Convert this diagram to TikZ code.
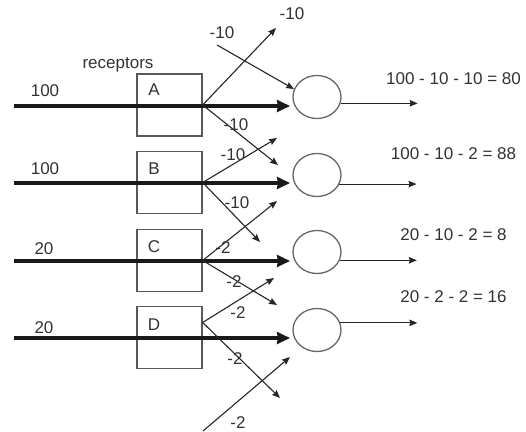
\documentclass[tikz,border=0pt]{standalone}
\usepackage{fontspec}
\setmainfont{Liberation Sans}
\usetikzlibrary{arrows.meta,shapes.geometric,calc}
\begin{document}
\begin{tikzpicture}[x=1pt,y=-1pt,
  every node/.style={font=\fontsize{17}{20}\selectfont, text=black!80},
  lbl/.style={inner sep=0pt, text height=12.2pt, text depth=0pt},
  recbox/.style={draw=black!65, line width=1.3pt, minimum width=65pt, minimum height=62pt, inner sep=0pt},
  cell/.style={ellipse, draw=black!60, line width=1.3pt, minimum width=48pt, minimum height=43pt, inner sep=0pt},
  bigarrow/.style={draw=black!90, line width=3.3pt, -{Stealth[length=13pt,width=12pt,inset=1pt]}},
  smallarrow/.style={draw=black!85, line width=1.1pt, -{Stealth[length=8pt,width=6.5pt,inset=1pt]}},
]
\fill[white] (0,0) rectangle (526,431);
\useasboundingbox (0,0) rectangle (526,431);

% receptor boxes
\node[recbox] (A) at (169.5,105) {};
\node[recbox] (B) at (169.5,182.5) {};
\node[recbox] (C) at (169.5,260.5) {};
\node[recbox] (D) at (169.5,337.5) {};
\node[lbl] (lA) at (154,89) {A};
\node[lbl] (lB) at (154,168) {B};
\node[lbl] (lC) at (154,246) {C};
\node[lbl] (lD) at (154,324) {D};
\node[anchor=base, inner sep=0pt] (rec) at (118,68) {receptors};

% cells
\node[cell] (c1) at (317,97) {};
\node[cell] (c2) at (317,175) {};
\node[cell] (c3) at (317,252) {};
\node[cell] (c4) at (317,330) {};

% inputs
\coordinate (sA) at (14,106);
\coordinate (sB) at (14,183);
\coordinate (sC) at (14,261);
\coordinate (sD) at (14,338);
\coordinate (tA) at (290,106);
\coordinate (tB) at (290,183);
\coordinate (tC) at (290,261);
\coordinate (tD) at (290,338);
\draw[bigarrow] (sA) -- (tA);
\draw[bigarrow] (sB) -- (tB);
\draw[bigarrow] (sC) -- (tC);
\draw[bigarrow] (sD) -- (tD);
\node[lbl] (iA) at (45,90) {100};
\node[lbl] (iB) at (45,168) {100};
\node[lbl] (iC) at (44,248) {20};
\node[lbl] (iD) at (44,327) {20};

% lateral inhibition arrows
\coordinate (dOut) at ($(D.east)+(0,-15)$);
\coordinate (topIn) at (217,45);
\coordinate (botIn) at (203,431);
\coordinate (e1) at (276,28);
\coordinate (e3) at (278,165);
\coordinate (e4) at (277,138);
\coordinate (e5) at (260,242);
\coordinate (e6) at (277,201);
\coordinate (e7) at (277,305);
\coordinate (e8) at (274,278);
\coordinate (e9) at (280,398);
\coordinate (e10) at (290,357);

\draw[smallarrow] (A.east) -- (e1);
\draw[smallarrow] (topIn) -- (c1.161);
\draw[smallarrow] (A.east) -- (e3);
\draw[smallarrow] (B.east) -- (e4);
\draw[smallarrow] (B.east) -- (e5);
\draw[smallarrow] (C.east) -- (e6);
\draw[smallarrow] (C.east) -- (e7);
\draw[smallarrow] (dOut) -- (e8);
\draw[smallarrow] (dOut) -- (e9);
\draw[smallarrow] (botIn) -- (e10);

\node[lbl] (w1) at (292,13) {-10};
\node[lbl] (w2) at (222,32) {-10};
\node[lbl] (w3) at (236,124) {-10};
\node[lbl] (w4) at (233,154) {-10};
\node[lbl] (w5) at (237,202) {-10};
\node[lbl] (w6) at (223,247) {-2};
\node[lbl] (w7) at (234,281) {-2};
\node[lbl] (w8) at (238,312) {-2};
\node[lbl] (w9) at (235,358) {-2};
\node[lbl] (w10) at (238,422) {-2};

% outputs
\draw[smallarrow] (c1.-15) -- ++(77,0);
\draw[smallarrow] (c2.-22) -- ++(77,0);
\draw[smallarrow] (c3.-20) -- ++(77,0);
\draw[smallarrow] (c4.17) -- ++(77,0);
\node[lbl] (r1) at (453.5,78.5) {100 - 10 - 10 = 80};
\node[lbl] (r2) at (453.5,153.5) {100 - 10 - 2 = 88};
\node[lbl] (r3) at (453.5,234) {20 - 10 - 2 = 8};
\node[lbl] (r4) at (453.5,296) {20 - 2 - 2 = 16};
\end{tikzpicture}
\end{document}
